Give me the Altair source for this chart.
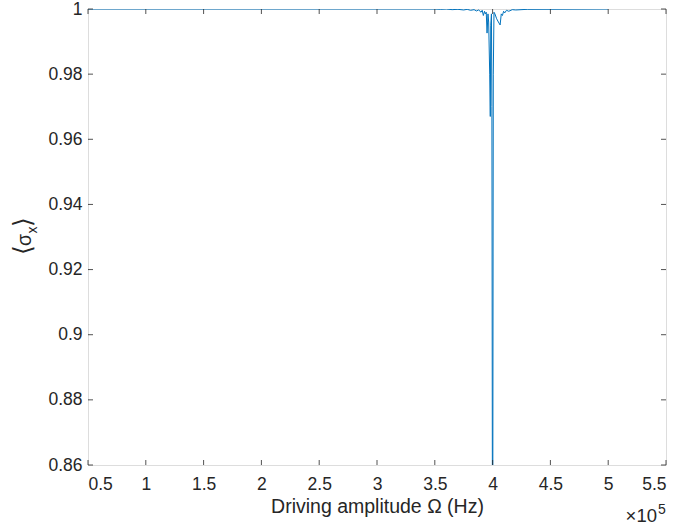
import altair as alt
import pandas as pd

# Driving amplitude (Hz) and <sigma_x>
omega_hz = [50000, 350000, 355000, 360000, 365000, 370000, 375000, 378000, 381000,
            384000, 386000, 388000, 390000, 391000, 392000, 393000, 393700, 394500,
            395200, 396000, 396600, 397500, 398000, 398400, 399000, 399400, 400000,
            400600, 401200, 402000, 403500, 405000, 406500, 407500, 408500, 409500,
            410500, 412000, 414000, 417000, 420000, 430000, 500000]
sigma_x = [1.0, 1.0, 0.9999, 1.0, 0.9998, 0.9999, 0.9997, 0.9999, 0.9996,
           0.9998, 0.9994, 0.9997, 0.9990, 0.9996, 0.9980, 0.9993, 0.9985, 0.9990,
           0.9926, 0.9985, 0.9960, 0.9800, 0.9670, 0.9950, 0.9985, 0.9700, 0.8000,
           0.9800, 0.9990, 0.9985, 0.9970, 0.9960, 0.9951, 0.9985, 0.9980, 0.9993,
           0.9988, 0.9996, 0.9993, 0.9998, 0.9997, 0.9999, 1.0]

x_ticks = [50000, 100000, 150000, 200000, 250000, 300000, 350000, 400000, 450000, 500000, 550000]
y_ticks = [0.86, 0.88, 0.90, 0.92, 0.94, 0.96, 0.98, 1.0]

W, H = 578, 456
FONT = "Liberation Sans"
AX = "#262626"
LBL = 17.5
TTL = 19.5

df = pd.DataFrame({"omega": omega_hz, "sx": sigma_x})
xt = pd.DataFrame({"v": x_ticks})
yt = pd.DataFrame({"v": y_ticks})

xscale = alt.Scale(domain=[50000, 550000], nice=False, zero=False)
yscale = alt.Scale(domain=[0.86, 1.0], nice=False, zero=False)

line = alt.Chart(df).mark_line(color="#0072BD", strokeWidth=1, clip=True).encode(
    x=alt.X("omega:Q", scale=xscale,
            axis=alt.Axis(values=x_ticks, ticks=False, grid=False, domain=False,
                          labelExpr="format(datum.value/100000, '~g')",
                          labelFont=FONT, labelFontSize=LBL, labelColor=AX,
                          labelPadding=10, title="Driving amplitude Ω (Hz)",
                          titleFont=FONT, titleFontSize=TTL, titleFontWeight="normal",
                          titleColor=AX, titlePadding=5)),
    y=alt.Y("sx:Q", scale=yscale,
            axis=alt.Axis(values=y_ticks, ticks=False, grid=False, domain=False,
                          format="~g", labelFont=FONT, labelFontSize=LBL,
                          labelColor=AX, labelPadding=6, title=None)),
)

tick_len = 5
xb = alt.Chart(xt).mark_rule(color=AX, strokeWidth=0.8).encode(
    x=alt.X("v:Q", scale=xscale), y=alt.value(H), y2=alt.value(H - tick_len))
xtop = alt.Chart(xt).mark_rule(color=AX, strokeWidth=0.8).encode(
    x=alt.X("v:Q", scale=xscale), y=alt.value(0), y2=alt.value(tick_len))
yl = alt.Chart(yt).mark_rule(color=AX, strokeWidth=0.8).encode(
    y=alt.Y("v:Q", scale=yscale), x=alt.value(0), x2=alt.value(tick_len))
yr = alt.Chart(yt).mark_rule(color=AX, strokeWidth=0.8).encode(
    y=alt.Y("v:Q", scale=yscale), x=alt.value(W - tick_len), x2=alt.value(W))


def txt(s, x, y, size, font=FONT, align="center", baseline="middle", angle=0):
    kw = dict(font=font, fontSize=size, color=AX, align=align, baseline=baseline)
    if angle:
        kw["angle"] = angle
    return alt.Chart(pd.DataFrame({"t": [s]})).mark_text(**kw).encode(
        text="t:N", x=alt.value(x), y=alt.value(y))


exp_base = txt("×10", W - 9, H + 57, 18.5, align="right", baseline="alphabetic")
exp_sup = txt("5", W - 8, H + 49, 14, align="left", baseline="alphabetic")

# y-axis title  <sigma_x>  drawn rotated
yt1 = txt("⟨", -65, 241, 25, font="DejaVu Sans", angle=270)
yt2 = txt("σ", -63, 231, TTL, angle=270)
yt3 = txt("x", -55, 221, 14, angle=270)
yt4 = txt("⟩", -65, 213, 25, font="DejaVu Sans", angle=270)

chart = alt.layer(line, xb, xtop, yl, yr, exp_base, exp_sup, yt1, yt2, yt3, yt4).properties(
    width=W, height=H,
    autosize=alt.AutoSizeParams(type="none"),
    padding={"left": 88, "top": 9, "right": 12, "bottom": 65},
).configure_view(stroke=AX, strokeWidth=0.8).configure(background="white")

chart.save("out.html", embed_options={"renderer": "svg", "actions": False})
